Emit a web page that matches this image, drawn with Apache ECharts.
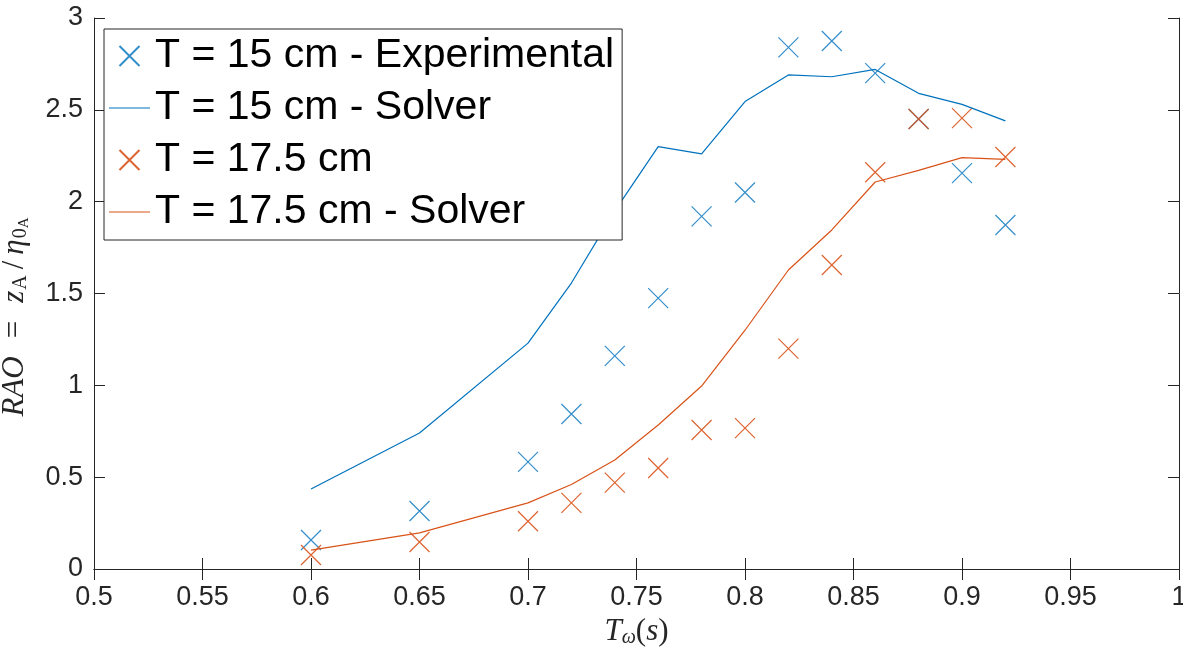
<!DOCTYPE html>
<html>
<head>
<meta charset="utf-8">
<script src="https://cdn.jsdelivr.net/npm/echarts@6/dist/echarts.min.js"></script>
<style>html,body{margin:0;padding:0;background:#fff;}#c{width:1183px;height:647px;}</style>
</head>
<body>
<div id="c"></div>
<script>
const periods = [0.6, 0.65, 0.7, 0.72, 0.74, 0.76, 0.78, 0.8, 0.82, 0.84, 0.86, 0.88, 0.9, 0.92];
const exp15 = [0.158, 0.316, 0.583, 0.844, 1.16, 1.475, 1.92, 2.05, 2.84, 2.875, 2.70, 2.45, 2.155, 1.873];
const solver15 = [0.436, 0.74, 1.23, 1.557, 1.95, 2.30, 2.26, 2.545, 2.69, 2.68, 2.72, 2.59, 2.53, 2.44];
const exp175 = [0.076, 0.147, 0.26, 0.36, 0.47, 0.55, 0.757, 0.767, 1.20, 1.655, 2.16, 2.45, 2.455, 2.243];
const solver175 = [0.103, 0.197, 0.36, 0.46, 0.593, 0.784, 0.996, 1.30, 1.628, 1.846, 2.107, 2.17, 2.24, 2.23];
const seriesNames = ['T = 15 cm - Experimental', 'T = 15 cm - Solver', 'T = 17.5 cm', 'T = 17.5 cm - Solver'];

const BLUE = '#0072BD', ORANGE = '#D95319', AX = '#262626';
const XPATH = 'path://M0,0L20,20M20,0L0,20';
const LINEPATH = 'path://M0,0L41,0L41,1.2L0,1.2Z';
const pairs = (ys) => periods.map((x, i) => [x, ys[i]]);

const chart = echarts.init(document.getElementById('c'));
const tickFont = {fontFamily: 'Liberation Sans, Arial, sans-serif', fontSize: 27, color: AX};
const axCommon = {
  axisLine: {show: true, lineStyle: {color: AX, width: 1}},
  axisTick: {show: true, inside: true, length: 11, lineStyle: {color: AX, width: 1}},
  splitLine: {show: false}
};
const SERIF = 'Liberation Serif, serif';
const richMath = {
  i: {fontFamily: SERIF, fontStyle: 'italic', fontSize: 31, color: AX},
  n: {fontFamily: SERIF, fontSize: 31, color: AX},
  eq: {fontFamily: SERIF, fontSize: 31, color: AX, padding: [0, 18, 0, 18]},
  sl: {fontFamily: SERIF, fontSize: 31, color: AX, padding: [0, 6, 0, 6]},
  s: {fontFamily: SERIF, fontSize: 20, color: AX, padding: [12, 0, 0, 1]},
  si: {fontFamily: SERIF, fontStyle: 'italic', fontSize: 20, color: AX, padding: [12, 0, 0, 0]},
  ss: {fontFamily: SERIF, fontSize: 15, color: AX, padding: [20, 0, 0, 0]}
};
chart.setOption({
  animation: false,
  backgroundColor: '#fff',
  grid: {left: 94, right: 4, top: 18, bottom: 78, containLabel: false, outerBoundsMode: 'none'},
  legend: {
    orient: 'vertical', left: 104, top: 29,
    backgroundColor: '#fff', borderColor: AX, borderWidth: 1,
    padding: [6, 8, 7, 5], itemGap: 10, itemWidth: 41, itemHeight: 20,
    textStyle: {fontFamily: 'Liberation Sans, Arial, sans-serif', fontSize: 41, color: '#000', lineHeight: 42},
    data: [
      {name: seriesNames[0], icon: XPATH},
      {name: seriesNames[1], icon: LINEPATH, itemStyle: {color: BLUE, borderWidth: 0}},
      {name: seriesNames[2], icon: XPATH},
      {name: seriesNames[3], icon: LINEPATH, itemStyle: {color: ORANGE, borderWidth: 0}}
    ]
  },
  xAxis: [
    Object.assign({type: 'value', min: 0.5, max: 1, interval: 0.05, position: 'bottom',
      axisLabel: Object.assign({margin: 15}, tickFont),
      name: '{i|T}{si|ω}{n|(}{i|s}{n|)}', nameLocation: 'middle', nameGap: 47,
      nameTextStyle: {rich: richMath}
    }, axCommon),
    Object.assign({type: 'value', min: 0.5, max: 1, interval: 0.05, position: 'top',
      axisLabel: {show: false}}, axCommon)
  ],
  yAxis: [
    Object.assign({type: 'value', min: 0, max: 3, interval: 0.5, position: 'left',
      axisLabel: Object.assign({margin: 11}, tickFont),
      name: '{i|RAO}{eq|=}{i|z}{s|A}{sl|/}{i|η}{s|0}{ss|A}', nameLocation: 'middle', nameGap: 62, nameRotate: 90,
      nameTextStyle: {rich: richMath, padding: [0, 47, 0, 0]}
    }, axCommon),
    Object.assign({type: 'value', min: 0, max: 3, interval: 0.5, position: 'right',
      axisLabel: {show: false}}, axCommon)
  ],
  series: [
    {name: seriesNames[0], type: 'scatter', data: pairs(exp15), symbol: XPATH, symbolSize: 20,
      itemStyle: {color: 'rgba(0,0,0,0)', borderColor: BLUE, borderWidth: 1.2}},
    {name: seriesNames[1], type: 'line', data: pairs(solver15), symbol: 'none', showSymbol: false,
      lineStyle: {color: BLUE, width: 1.2}, itemStyle: {color: BLUE}},
    {name: seriesNames[2], type: 'scatter', data: pairs(exp175), symbol: XPATH, symbolSize: 20,
      itemStyle: {color: 'rgba(0,0,0,0)', borderColor: ORANGE, borderWidth: 1.2, opacity: 0.9}},
    {name: seriesNames[3], type: 'line', data: pairs(solver175), symbol: 'none', showSymbol: false,
      lineStyle: {color: ORANGE, width: 1.2}, itemStyle: {color: ORANGE}}
  ]
});
</script>
</body>
</html>
